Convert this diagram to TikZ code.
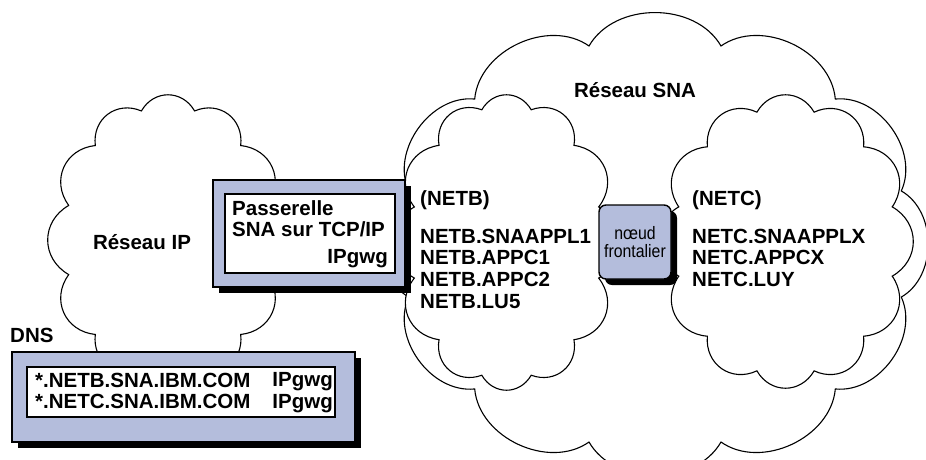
\documentclass[tikz,border=0pt]{standalone}
\usepackage{fontspec}
\setmainfont{Liberation Sans}
\usepackage{graphicx}
\usetikzlibrary{shadows}
\definecolor{boxblue}{RGB}{180,189,220}
\newcommand\netcloud[6]{%
    \coordinate (#6) at (#1,#2);
    \filldraw[cloudline,looseness=#5] ({#1+#3*cos(15)},{#2+#4*sin(15)})
        \foreach \p in {1,...,12} {to[bend left=60] ({#1+#3*cos(15+30*\p)},{#2+#4*sin(15+30*\p)})} -- cycle;
}
\begin{document}
\begin{tikzpicture}[x=1pt,y=-1pt,
    cloudline/.style={draw=black,fill=white,line width=1.1pt,line join=miter},
    frame/.style={draw,line width=1.4pt,fill=boxblue,inner sep=0pt,
        drop shadow={shadow xshift=6pt,shadow yshift=-6pt,opacity=1,fill=black}},
    inbox/.style={draw,line width=1.4pt,fill=white,inner sep=0pt},
    lbl/.style={inner sep=0pt,font=\fontsize{20.5}{21.7}\selectfont\bfseries,align=left}]
    \useasboundingbox (0,0) rectangle (926,459);
    \netcloud{655}{244}{255}{205}{1}{sna}
    \netcloud{506.5}{242.5}{95.4}{137.4}{1.2}{netb}
    \netcloud{785.5}{241.5}{110.5}{133.9}{1.2}{netc}
    \netcloud{168}{240}{102.8}{133.6}{1.2}{ip}
    \node[lbl] (snaname) at (635,90) {Réseau SNA};
    \node[lbl] (ipname) at (142,242) {Réseau IP};
    \node[lbl,anchor=north west] (netbhead) at (420,190) {(NETB)};
    \node[lbl,anchor=north west] (netblist) at (420,228.5) {NETB.SNAAPPL1\\NETB.APPC1\\NETB.APPC2\\NETB.LU5};
    \node[lbl,anchor=north west] (netchead) at (692,190) {(NETC)};
    \node[lbl,anchor=north west] (netclist) at (692,228.5) {NETC.SNAAPPLX\\NETC.APPCX\\NETC.LUY};
    \node[frame,minimum width=192pt,minimum height=107pt] (gw) at (309,233.5) {};
    \node[inbox,minimum width=170pt,minimum height=79pt] (gwin) at (310,233.5) {};
    \node[lbl,anchor=north west] (gwtext) at (232,200) {Passerelle\\SNA sur TCP/IP};
    \node[lbl,anchor=north east] (gwname) at (388,249.5) {IPgwg};
    \node[frame,rounded corners=7pt,minimum width=72pt,minimum height=74pt,align=center,
        font=\fontsize{18}{18}\selectfont] (border) at (635,242)
        {\scalebox{0.88}[1]{nœud}\\\scalebox{0.88}[1]{frontalier}};
    \node[lbl,anchor=north west] (dnsname) at (10,328) {DNS};
    \node[frame,minimum width=343pt,minimum height=90pt] (dns) at (183.5,397) {};
    \node[inbox,minimum width=308pt,minimum height=50pt] (dnsin) at (181,392) {};
    \node[lbl,anchor=north west] (dnslist) at (35,372.5) {*.NETB.SNA.IBM.COM\\*.NETC.SNA.IBM.COM};
    \node[lbl,anchor=north east,align=right] (dnsgw) at (333,372.5) {IPgwg\\IPgwg};
\end{tikzpicture}
\end{document}
